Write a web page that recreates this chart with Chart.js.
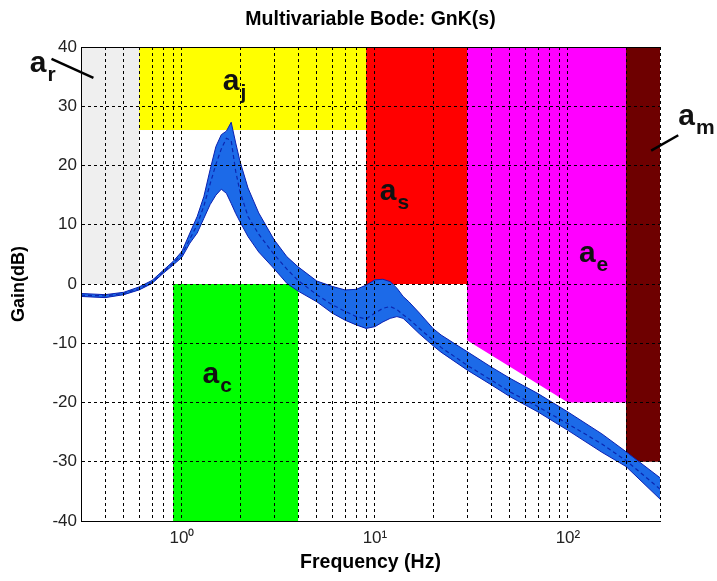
<!DOCTYPE html>
<html>
<head>
<meta charset="utf-8">
<title>Multivariable Bode: GnK(s)</title>
<script src="https://cdn.jsdelivr.net/npm/chart.js@4.4.0/dist/chart.umd.min.js"></script>
<style>
  html, body { margin: 0; padding: 0; background: #fff; }
  #wrap { width: 717px; height: 581px; }
</style>
</head>
<body>
<div id="wrap"><canvas id="bode"></canvas></div>
<script>
// Frequency (Hz) and gain envelope (dB)
const freq = [0.3, 0.4, 0.5, 0.6, 0.7, 0.8, 0.9,
  1.0, 1.1, 1.2, 1.3, 1.4, 1.5, 1.6, 1.7, 1.8, 1.9, 2.0,
  2.2, 2.5, 3.0, 3.5, 4.0, 5, 6, 7, 8, 9,
  10, 11, 12, 13, 14, 15, 17, 20, 22,
  30, 40, 50, 70, 100, 150, 200, 300];
const gainUpper = [-1.6, -1.8, -1.4, -0.5, 0.6, 2.3, 3.8,
  5.5, 8.6, 11.4, 14.8, 19.3, 23.2, 25.2, 25.8, 27.3, 23.8, 20.7,
  16.2, 12.0, 7.5, 4.6, 2.9, 0.5, -0.4, -1.0, -0.9, -0.2,
  0.7, 0.8, 0.4, -0.7, -2.1, -3.0, -4.9, -7.5, -8.6,
  -11.4, -14.0, -15.9, -18.5, -21.6, -25.3, -28.3, -32.7];
const gainLower = [-2.1, -2.3, -1.8, -1.0, 0.1, 1.8, 3.2,
  4.5, 6.9, 8.6, 11.1, 13.4, 15.0, 16.0, 15.3, 13.6, 11.9, 10.5,
  8.0, 5.4, 2.6, 0.1, -1.2, -3.0, -4.9, -6.1, -6.9, -7.5,
  -7.2, -6.4, -5.8, -5.5, -5.8, -6.7, -8.4, -10.4, -11.5,
  -14.5, -17.0, -19.0, -21.6, -24.7, -28.4, -30.8, -36.3];
const gainNominal = [-1.9, -2.0, -1.6, -0.8, 0.3, 2.0, 3.5,
  5.0, 7.6, 10.0, 13.2, 16.9, 20.2, 22.8, 24.6, 24.2, 19.0, 15.6,
  11.4, 8.4, 5.0, 2.5, 0.6, -1.8, -3.5, -4.6, -5.5, -5.9,
  -4.9, -4.1, -3.8, -4.3, -5.2, -5.9, -7.5, -9.5, -10.7,
  -13.7, -16.2, -18.2, -20.7, -23.6, -27.0, -29.8, -34.6];

// Constraint regions (polygon corners: Hz / dB)
const arF = [0.3, 0.3, 0.6, 0.6];   const arDb = [0, 40, 40, 0];
const ajF = [0.6, 0.6, 9, 9];       const ajDb = [26, 40, 40, 26];
const asF = [9, 9, 30, 30];         const asDb = [0, 40, 40, 0];
const aeF = [30, 30, 100, 200, 200]; const aeDb = [40, -9.5, -20, -20, 40];
const amF = [200, 200, 300, 300];   const amDb = [-30, 40, 40, -30];
const acF = [0.9, 0.9, 4, 4];       const acDb = [-40, 0, 0, -40];

// Axis ticks
const freqTicks = [0.3, 0.4, 0.5, 0.6, 0.7, 0.8, 0.9, 1, 2, 3, 4, 5, 6, 7, 8, 9,
  10, 20, 30, 40, 50, 60, 70, 80, 90, 100, 200, 300];
const freqLabelValues = [1, 10, 100];
const freqLabelText = ['10\u2070', '10\u00b9', '10\u00b2'];

// Region names (a + subscript) and where they sit (Hz / dB)
const noteSubs = ['r', 'j', 's', 'e', 'c', 'm'];
const noteF = [0.163, 1.63, 10.6, 114, 1.28, 373];
const noteDb = [35.8, 32.7, 14.2, 3.7, -16.7, 26.8];
const leaderF = [[0.211, 0.348], [270, 373]];
const leaderDb = [[38.0, 34.8], [22.5, 25.1]];

const pts = (xs, ys) => xs.map((v, i) => ({ x: v, y: ys[i] }));

function region(xs, ys, color) {
  return {
    data: pts(xs, ys),
    fill: 'shape',
    backgroundColor: color,
    borderWidth: 0,
    pointRadius: 0
  };
}

Chart.defaults.font.family = "'Liberation Sans', Arial, sans-serif";

const notesPlugin = {
  id: 'notes',
  afterDraw(chart) {
    const { ctx, scales: { x, y } } = chart;
    ctx.save();
    ctx.strokeStyle = '#000';
    ctx.lineWidth = 2.5;
    leaderF.forEach((fs, i) => {
      ctx.beginPath();
      ctx.moveTo(x.getPixelForValue(fs[0]), y.getPixelForValue(leaderDb[i][0]));
      ctx.lineTo(x.getPixelForValue(fs[1]), y.getPixelForValue(leaderDb[i][1]));
      ctx.stroke();
    });
    ctx.fillStyle = '#111';
    ctx.textBaseline = 'alphabetic';
    noteSubs.forEach((sub, i) => {
      const px = x.getPixelForValue(noteF[i]);
      const py = y.getPixelForValue(noteDb[i]);
      ctx.font = "bold 30px 'Liberation Sans', Arial, sans-serif";
      ctx.fillText('a', px, py);
      const w = ctx.measureText('a').width;
      ctx.font = "bold 21px 'Liberation Sans', Arial, sans-serif";
      ctx.fillText(sub, px + w + 1, py + 9);
    });
    ctx.restore();
  }
};

new Chart(document.getElementById('bode'), {
  type: 'line',
  data: {
    datasets: [
      {
        data: pts(freq, gainNominal),
        borderColor: '#0b27b0',
        borderWidth: 1.2,
        borderDash: [4, 3],
        pointRadius: 0,
        fill: false
      },
      {
        data: pts(freq, gainUpper),
        borderColor: '#0a1fb0',
        borderWidth: 1,
        pointRadius: 0,
        backgroundColor: '#1c6ae8',
        fill: '+1'
      },
      {
        data: pts(freq, gainLower),
        borderColor: '#0a1fb0',
        borderWidth: 1,
        pointRadius: 0,
        fill: false
      },
      region(arF, arDb, '#efefef'),
      region(ajF, ajDb, '#ffff00'),
      region(asF, asDb, '#ff0000'),
      region(aeF, aeDb, '#ff00ff'),
      region(amF, amDb, '#6e0000'),
      region(acF, acDb, '#00ff00')
    ]
  },
  options: {
    responsive: true,
    maintainAspectRatio: false,
    devicePixelRatio: 1,
    animation: false,
    layout: { padding: { left: 0, right: 57, top: 0, bottom: 0 } },
    plugins: {
      legend: { display: false },
      tooltip: { enabled: false },
      filler: { drawTime: 'beforeDatasetsDraw' },
      title: { display: false }
    },
    scales: {
      x: {
        type: 'logarithmic',
        min: 0.3,
        max: 300,
        afterBuildTicks: s => { s.ticks = freqTicks.map(v => ({ value: v })); },
        afterFit: s => { s.height = 60; },
        ticks: {
          autoSkip: false,
          maxRotation: 0,
          minRotation: 0,
          padding: 7,
          color: '#222',
          font: { size: 17 },
          callback: v => {
            const i = freqLabelValues.indexOf(v);
            return i >= 0 ? freqLabelText[i] : '';
          }
        },
        grid: { color: '#000', lineWidth: 1, drawTicks: false, z: 1 },
        border: { display: true, color: '#000', width: 1, dash: [3, 3], z: 2 },
        title: {
          display: true,
          text: 'Frequency (Hz)',
          color: '#000',
          font: { size: 19.5, weight: 'bold' },
          padding: { top: 0, bottom: 7 }
        }
      },
      x2: {
        type: 'linear',
        position: 'top',
        min: 0,
        max: 1,
        afterFit: s => { s.height = 47; },
        ticks: { display: false },
        grid: { display: false, drawTicks: false },
        border: { display: true, color: '#000', width: 1, z: 2 },
        title: {
          display: true,
          text: 'Multivariable Bode: GnK(s)',
          color: '#000',
          font: { size: 19.5, weight: 'bold' },
          padding: { top: 8, bottom: 0 }
        }
      },
      y: {
        type: 'linear',
        min: -40,
        max: 40,
        afterFit: s => { s.width = 81; },
        ticks: { stepSize: 10, padding: 4, color: '#222', font: { size: 17 } },
        grid: { color: '#000', lineWidth: 1, drawTicks: false, z: 1 },
        border: { display: true, color: '#000', width: 1, dash: [3, 3], z: 2 },
        title: {
          display: true,
          text: 'Gain(dB)',
          color: '#000',
          font: { size: 18, weight: 'bold' },
          padding: { top: 8, bottom: 0 }
        }
      }
    }
  },
  plugins: [notesPlugin]
});
</script>
</body>
</html>
